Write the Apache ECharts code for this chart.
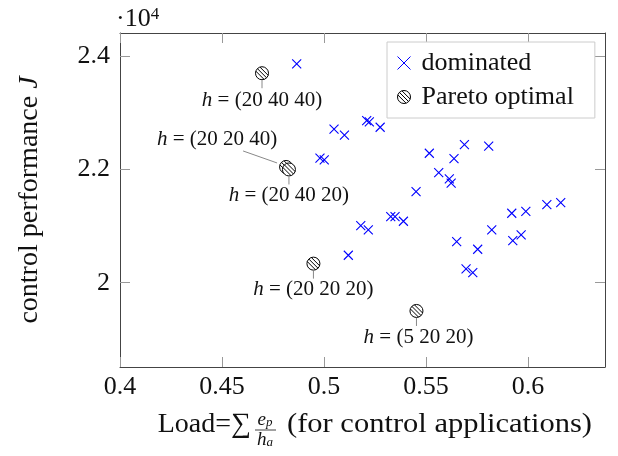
<!DOCTYPE html>
<html>
<head>
<meta charset="utf-8">
<script src="https://cdn.jsdelivr.net/npm/echarts@6/dist/echarts.min.js"></script>
<style>
  html, body { margin: 0; padding: 0; background: #fff; }
  #main { width: 618px; height: 456px; }
</style>
</head>
<body>
<div id="main"></div>
<script>
// values
var dominatedLoad = [0.4866, 0.5049, 0.5100, 0.5209, 0.5222, 0.5275, 0.4980, 0.5001,
                     0.5516, 0.5688, 0.5807, 0.5637, 0.5562, 0.5614, 0.5623, 0.5451,
                     0.5920, 0.5989, 0.6092, 0.6160, 0.5180, 0.5217, 0.5327, 0.5348,
                     0.5389, 0.5822, 0.5650, 0.5753, 0.5925, 0.5966, 0.5696, 0.5729, 0.5119];
var dominatedJ = [23860, 22708, 22602, 22859, 22836, 22743, 22196, 22166,
                  22284, 22436, 22408, 22189, 21942, 21830, 21755, 21606,
                  21225, 21260, 21377, 21412, 21006, 20930, 21165, 21165,
                  21084, 20930, 20724, 20590, 20741, 20842, 20242, 20177, 20484];
var paretoLoad = [0.4696, 0.4814, 0.4828, 0.4948, 0.5453];
var paretoJ = [23696, 22042, 21998, 20336, 19501];
var paretoH = ['(20 40 40)', '(20 20 40)', '(20 40 20)', '(20 20 20)', '(5 20 20)'];
var seriesNames = ['dominated', 'Pareto optimal'];
var xTicks = [0.4, 0.45, 0.5, 0.55, 0.6];
var xTickLabels = ['0.4', '0.45', '0.5', '0.55', '0.6'];
var yTicks = [20000, 22000, 24000];
var yTickLabels = ['2', '2.2', '2.4'];

// label placement relative to each Pareto point (px), and its leader line
var labelShift = [[0, 27], [-69, -27], [0, 26.5], [0, 26], [2, 26.3]];
var leader = [[0, 7, 0, 15], [-43, -16, -9, -4], [0, 7, 0, 15], [0, 7, 0, 15], [0, 7, 0, 15]];

var serif = '"Liberation Serif", "Times New Roman", serif';
var crossPath = 'path://M0 0L10 10M10 0L0 10';
var hatchPath = 'path://M19 10A9 9 0 1 1 1 10A9 9 0 1 1 19 10Z' +
  'M3.64 3.64L16.36 16.36M7.13 1.47L18.53 12.87M1.47 7.13L12.87 18.53';

function pairs(xs, ys) {
  var out = [];
  for (var i = 0; i < xs.length; i++) out.push([xs[i], ys[i]]);
  return out;
}

var xMin = 0.4, xMax = 0.6377, yMin = 18512, yMax = 24406;
var frame = { show: true, lineStyle: { color: '#444', width: 1 } };
var tick = { show: true, inside: true, length: 10, lineStyle: { color: '#999', width: 1 } };
var sub = function (main, s) {
  return { text: '{i|' + main + '}{s|' + s + '}', align: 'center', verticalAlign: 'middle',
    rich: { i: { fontStyle: 'italic', fontSize: 19, fontFamily: serif, fill: '#111' },
            s: { fontStyle: 'italic', fontSize: 13, fontFamily: serif, fill: '#111', verticalAlign: 'bottom' } } };
};

var chart = echarts.init(document.getElementById('main'), null, { renderer: 'canvas' });
chart.setOption({
  animation: false,
  textStyle: { fontFamily: serif },
  grid: { left: 120, right: 13, top: 33, bottom: 89 },
  xAxis: [{
    type: 'value', min: xMin, max: xMax, position: 'bottom',
    axisLine: frame, splitLine: { show: false },
    axisTick: Object.assign({ customValues: xTicks }, tick),
    axisLabel: {
      customValues: xTicks, margin: 7, fontSize: 26, color: '#111', fontFamily: serif,
      formatter: function (v) { return xTickLabels[xTicks.indexOf(v)]; }
    }
  }, {
    type: 'value', min: xMin, max: xMax, position: 'top',
    axisLine: frame, splitLine: { show: false },
    axisTick: Object.assign({ customValues: xTicks }, tick),
    axisLabel: { show: false }
  }],
  yAxis: [{
    type: 'value', min: yMin, max: yMax, position: 'left',
    axisLine: frame, splitLine: { show: false },
    axisTick: Object.assign({ customValues: yTicks }, tick),
    axisLabel: {
      customValues: yTicks, margin: 10, fontSize: 26, color: '#111', fontFamily: serif,
      formatter: function (v) { return yTickLabels[yTicks.indexOf(v)]; }
    },
    name: 'control performance {i|J}', nameLocation: 'middle', nameGap: 76, nameRotate: 90,
    nameTextStyle: {
      fontSize: 28, color: '#111', fontFamily: serif,
      rich: { i: { fontStyle: 'italic', fontSize: 28, fontFamily: serif, color: '#111' } }
    }
  }, {
    type: 'value', min: yMin, max: yMax, position: 'right',
    axisLine: frame, splitLine: { show: false },
    axisTick: Object.assign({ customValues: yTicks }, tick),
    axisLabel: { show: false }
  }],
  legend: {
    left: 387, top: 42, orient: 'vertical',
    padding: [8, 21, 8, 10], itemGap: 8, itemWidth: 13, itemHeight: 13,
    borderColor: '#ccc', borderWidth: 1, backgroundColor: '#fff',
    textStyle: { fontSize: 26, color: '#111', fontFamily: serif, padding: [0, 0, 0, 6] },
    data: [
      { name: seriesNames[0], icon: crossPath, itemStyle: { color: 'rgba(0,0,0,0)', borderColor: '#0000ff', borderWidth: 1 } },
      { name: seriesNames[1], icon: hatchPath, itemStyle: { color: '#fff', borderColor: '#000', borderWidth: 1 } }
    ]
  },
  series: [{
    name: seriesNames[0], type: 'scatter', symbol: crossPath, symbolSize: 9,
    itemStyle: { color: 'rgba(0,0,0,0)', borderColor: '#0000ff', borderWidth: 1.1, opacity: 1 },
    data: pairs(dominatedLoad, dominatedJ), z: 3
  }, {
    name: seriesNames[1], type: 'scatter', symbol: hatchPath, symbolSize: 13,
    itemStyle: { color: '#fff', borderColor: '#000', borderWidth: 1, opacity: 1 },
    data: pairs(paretoLoad, paretoJ), z: 4,
    label: {
      show: true, position: 'inside', align: 'center', verticalAlign: 'middle',
      color: '#111', fontSize: 21, fontFamily: serif,
      formatter: function (p) { return '{i|h} = ' + paretoH[p.dataIndex]; },
      rich: { i: { fontStyle: 'italic', fontSize: 21, fontFamily: serif, color: '#111' } }
    },
    labelLayout: function (p) {
      var s = labelShift[p.dataIndex];
      return { dx: s[0], dy: s[1] };
    }
  }],
  graphic: [
    {
      id: 'exp', type: 'text', left: 116, top: 6,
      style: {
        text: '{a|·10}{b|4}', fill: '#111',
        rich: {
          a: { fontSize: 26, fontFamily: serif, fill: '#111' },
          b: { fontSize: 17, fontFamily: serif, fill: '#111', verticalAlign: 'top' }
        }
      }
    },
    { id: 'xt1', type: 'text', x: 251, y: 425, style: { text: 'Load=∑', fontSize: 28, fontFamily: serif, fill: '#111', align: 'right', verticalAlign: 'middle' } },
    { id: 'xt2', type: 'text', x: 265, y: 420, style: sub('e', 'p') },
    { id: 'xt3', type: 'line', shape: { x1: 255, y1: 430, x2: 276, y2: 430 }, style: { stroke: '#111', lineWidth: 0.8 } },
    { id: 'xt4', type: 'text', x: 265, y: 440, style: sub('h', 'a') },
    { id: 'xt5', type: 'text', x: 287, y: 425, scaleX: 1.13, style: { text: '(for control applications)', fontSize: 27, fontFamily: serif, fill: '#111', align: 'left', verticalAlign: 'middle' } }
  ]
});

// leader lines from each Pareto point to its label
var lines = [];
for (var i = 0; i < paretoLoad.length; i++) {
  var p = chart.convertToPixel({ seriesIndex: 1 }, [paretoLoad[i], paretoJ[i]]);
  var l = leader[i];
  lines.push({
    id: 'lead' + i, type: 'line', z: 10,
    shape: { x1: p[0] + l[0], y1: p[1] + l[1], x2: p[0] + l[2], y2: p[1] + l[3] },
    style: { stroke: '#888', lineWidth: 1 }
  });
}
chart.setOption({ graphic: lines });
</script>
</body>
</html>
